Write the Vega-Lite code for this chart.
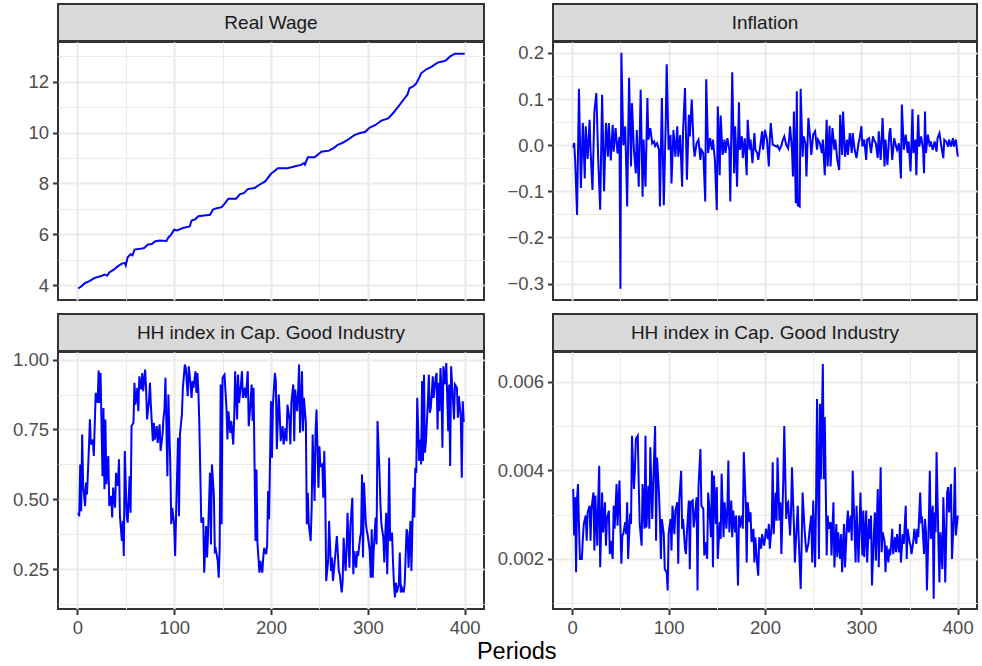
{
"$schema": "https://vega.github.io/schema/vega-lite/v6.json",
"padding": {"left": 11, "top": 3, "right": 3, "bottom": 0},
"title": {"text": "Periods", "orient": "bottom", "anchor": "middle", "fontSize": 23.5, "fontWeight": "normal", "color": "#000000", "font": "Liberation Sans", "dx": 22, "offset": 2},
"columns": 2,
"align": "each",
"spacing": {"row": -4, "column": 11},
"config": {
  "font": "Liberation Sans",
  "view": {"stroke": "#333333", "strokeWidth": 2},
  "axis": {"labelFont": "Liberation Sans", "labelFontSize": 18.5, "labelColor": "#4d4d4d", "tickColor": "#333333", "tickSize": 5.5, "tickWidth": 2, "labelPadding": 4, "gridColor": "#ebebeb", "domain": false, "title": null}
},
"datasets": {
"rw": [{"t":1,"v":3.88},{"t":4,"v":3.95},{"t":8,"v":4.09},{"t":12,"v":4.15},{"t":18,"v":4.29},{"t":24,"v":4.35},{"t":28,"v":4.42},{"t":31,"v":4.38},{"t":33,"v":4.5},{"t":38,"v":4.62},{"t":42,"v":4.75},{"t":46,"v":4.85},{"t":49,"v":4.88},{"t":50,"v":4.78},{"t":52,"v":5.1},{"t":55,"v":5.22},{"t":57,"v":5.18},{"t":59,"v":5.4},{"t":65,"v":5.43},{"t":69,"v":5.46},{"t":73,"v":5.6},{"t":77,"v":5.62},{"t":80,"v":5.72},{"t":85,"v":5.76},{"t":92,"v":5.74},{"t":94,"v":5.88},{"t":97,"v":5.99},{"t":100,"v":6.18},{"t":103,"v":6.15},{"t":109,"v":6.25},{"t":116,"v":6.31},{"t":118,"v":6.54},{"t":122,"v":6.6},{"t":125,"v":6.71},{"t":131,"v":6.74},{"t":137,"v":6.77},{"t":140,"v":6.97},{"t":144,"v":7.03},{"t":149,"v":7.07},{"t":152,"v":7.2},{"t":156,"v":7.4},{"t":164,"v":7.4},{"t":168,"v":7.58},{"t":172,"v":7.62},{"t":176,"v":7.78},{"t":183,"v":7.82},{"t":188,"v":7.95},{"t":194,"v":8.08},{"t":200,"v":8.38},{"t":204,"v":8.5},{"t":207,"v":8.6},{"t":217,"v":8.6},{"t":225,"v":8.68},{"t":231,"v":8.73},{"t":234,"v":8.8},{"t":235,"v":8.74},{"t":238,"v":9.03},{"t":245,"v":9.03},{"t":252,"v":9.25},{"t":260,"v":9.29},{"t":265,"v":9.4},{"t":269,"v":9.52},{"t":274,"v":9.6},{"t":279,"v":9.71},{"t":286,"v":9.9},{"t":292,"v":9.98},{"t":297,"v":10.02},{"t":302,"v":10.2},{"t":308,"v":10.3},{"t":314,"v":10.47},{"t":321,"v":10.56},{"t":326,"v":10.76},{"t":332,"v":11.05},{"t":338,"v":11.35},{"t":341,"v":11.5},{"t":343,"v":11.74},{"t":347,"v":11.82},{"t":350,"v":11.93},{"t":353,"v":12.15},{"t":355,"v":12.33},{"t":360,"v":12.48},{"t":366,"v":12.59},{"t":372,"v":12.75},{"t":378,"v":12.8},{"t":381,"v":12.85},{"t":385,"v":13.0},{"t":390,"v":13.1},{"t":400,"v":13.1}],
"inf": [{"t":1,"v":-0.005},{"t":2,"v":0.005},{"t":3,"v":-0.03},{"t":5,"v":-0.151},{"t":7,"v":0.122},{"t":9,"v":-0.093},{"t":11,"v":0.048},{"t":13,"v":-0.072},{"t":14,"v":0.041},{"t":16,"v":-0.03},{"t":18,"v":0.055},{"t":19,"v":-0.01},{"t":21,"v":-0.097},{"t":23,"v":0.073},{"t":25,"v":0.113},{"t":27,"v":-0.033},{"t":29,"v":-0.14},{"t":31,"v":0.109},{"t":33,"v":-0.1},{"t":35,"v":0.048},{"t":37,"v":-0.025},{"t":38,"v":0.048},{"t":40,"v":-0.033},{"t":42,"v":0.044},{"t":43,"v":-0.014},{"t":45,"v":0.037},{"t":47,"v":-0.018},{"t":49,"v":0.018},{"t":50,"v":-0.311},{"t":51,"v":0.2},{"t":53,"v":0.0},{"t":54,"v":0.012},{"t":55,"v":0.041},{"t":57,"v":-0.133},{"t":59,"v":0.146},{"t":61,"v":-0.046},{"t":62,"v":0.091},{"t":64,"v":-0.01},{"t":66,"v":-0.061},{"t":67,"v":0.033},{"t":69,"v":-0.09},{"t":71,"v":0.12},{"t":73,"v":-0.112},{"t":74,"v":0.012},{"t":76,"v":-0.09},{"t":78,"v":0.102},{"t":79,"v":0.012},{"t":81,"v":0.037},{"t":83,"v":0.004},{"t":85,"v":0.008},{"t":86,"v":-0.002},{"t":88,"v":0.004},{"t":90,"v":-0.01},{"t":91,"v":-0.133},{"t":93,"v":0.102},{"t":95,"v":-0.13},{"t":97,"v":0.048},{"t":98,"v":0.175},{"t":100,"v":-0.01},{"t":102,"v":0.022},{"t":103,"v":-0.083},{"t":105,"v":0.033},{"t":107,"v":-0.025},{"t":109,"v":0.041},{"t":110,"v":-0.025},{"t":112,"v":0.022},{"t":114,"v":-0.09},{"t":115,"v":0.03},{"t":117,"v":0.124},{"t":119,"v":-0.075},{"t":121,"v":0.066},{"t":122,"v":0.019},{"t":124,"v":0.099},{"t":126,"v":-0.003},{"t":127,"v":-0.025},{"t":129,"v":0.004},{"t":131,"v":0.012},{"t":133,"v":-0.032},{"t":134,"v":-0.01},{"t":136,"v":-0.017},{"t":138,"v":-0.122},{"t":139,"v":0.143},{"t":141,"v":-0.017},{"t":143,"v":0.015},{"t":145,"v":-0.01},{"t":146,"v":0.012},{"t":148,"v":-0.032},{"t":150,"v":-0.141},{"t":151,"v":0.084},{"t":153,"v":-0.065},{"t":154,"v":0.064},{"t":156,"v":-0.021},{"t":158,"v":0.012},{"t":159,"v":-0.017},{"t":161,"v":0.015},{"t":163,"v":-0.01},{"t":164,"v":-0.122},{"t":166,"v":0.158},{"t":168,"v":-0.061},{"t":169,"v":0.041},{"t":170,"v":-0.01},{"t":171,"v":-0.09},{"t":173,"v":0.093},{"t":174,"v":-0.01},{"t":176,"v":0.019},{"t":177,"v":-0.028},{"t":179,"v":0.015},{"t":181,"v":-0.065},{"t":182,"v":0.055},{"t":184,"v":-0.01},{"t":185,"v":0.012},{"t":187,"v":-0.039},{"t":189,"v":0.026},{"t":190,"v":-0.01},{"t":192,"v":-0.017},{"t":193,"v":-0.032},{"t":195,"v":-0.003},{"t":197,"v":0.03},{"t":198,"v":-0.01},{"t":200,"v":0.033},{"t":202,"v":0.012},{"t":204,"v":-0.046},{"t":205,"v":0.015},{"t":206,"v":0.048},{"t":208,"v":0.001},{"t":210,"v":-0.001},{"t":212,"v":-0.003},{"t":213,"v":-0.001},{"t":215,"v":-0.01},{"t":217,"v":-0.001},{"t":218,"v":0.008},{"t":220,"v":0.019},{"t":222,"v":0.001},{"t":224,"v":-0.007},{"t":225,"v":0.012},{"t":226,"v":0.041},{"t":228,"v":-0.01},{"t":229,"v":-0.068},{"t":230,"v":0.073},{"t":232,"v":-0.126},{"t":233,"v":0.117},{"t":234,"v":-0.13},{"t":236,"v":-0.133},{"t":237,"v":0.122},{"t":239,"v":-0.025},{"t":240,"v":0.019},{"t":242,"v":0.004},{"t":243,"v":-0.068},{"t":245,"v":0.059},{"t":247,"v":0.012},{"t":248,"v":-0.021},{"t":250,"v":0.023},{"t":252,"v":0.03},{"t":254,"v":-0.01},{"t":255,"v":0.012},{"t":257,"v":0.004},{"t":259,"v":-0.017},{"t":260,"v":0.012},{"t":262,"v":-0.065},{"t":264,"v":0.055},{"t":265,"v":-0.046},{"t":267,"v":0.042},{"t":268,"v":-0.046},{"t":270,"v":0.037},{"t":272,"v":-0.01},{"t":273,"v":0.012},{"t":275,"v":-0.032},{"t":277,"v":-0.054},{"t":278,"v":0.066},{"t":280,"v":-0.021},{"t":281,"v":0.073},{"t":283,"v":-0.025},{"t":285,"v":0.012},{"t":286,"v":-0.021},{"t":288,"v":0.026},{"t":290,"v":-0.017},{"t":291,"v":0.026},{"t":293,"v":-0.01},{"t":295,"v":-0.028},{"t":297,"v":0.004},{"t":298,"v":0.012},{"t":300,"v":0.041},{"t":301,"v":-0.003},{"t":303,"v":0.012},{"t":305,"v":-0.032},{"t":306,"v":0.012},{"t":308,"v":0.015},{"t":310,"v":-0.017},{"t":312,"v":0.019},{"t":313,"v":0.012},{"t":315,"v":0.004},{"t":317,"v":-0.028},{"t":318,"v":0.03},{"t":320,"v":-0.032},{"t":322,"v":0.059},{"t":324,"v":-0.046},{"t":325,"v":0.012},{"t":327,"v":-0.043},{"t":329,"v":0.026},{"t":330,"v":0.037},{"t":332,"v":-0.032},{"t":334,"v":0.015},{"t":336,"v":-0.003},{"t":337,"v":-0.01},{"t":339,"v":0.004},{"t":341,"v":-0.072},{"t":342,"v":0.088},{"t":344,"v":-0.01},{"t":346,"v":0.023},{"t":348,"v":-0.017},{"t":349,"v":0.008},{"t":351,"v":-0.057},{"t":353,"v":0.078},{"t":354,"v":-0.017},{"t":356,"v":0.012},{"t":357,"v":-0.065},{"t":359,"v":0.066},{"t":360,"v":-0.003},{"t":362,"v":0.019},{"t":364,"v":-0.01},{"t":365,"v":-0.061},{"t":366,"v":0.073},{"t":367,"v":-0.017},{"t":369,"v":0.023},{"t":371,"v":-0.003},{"t":372,"v":0.008},{"t":374,"v":-0.01},{"t":376,"v":0.008},{"t":378,"v":-0.014},{"t":379,"v":0.015},{"t":381,"v":0.026},{"t":383,"v":-0.003},{"t":385,"v":-0.028},{"t":386,"v":0.012},{"t":388,"v":0.008},{"t":390,"v":-0.003},{"t":391,"v":0.012},{"t":393,"v":-0.003},{"t":395,"v":0.015},{"t":396,"v":-0.003},{"t":398,"v":0.012},{"t":400,"v":-0.025}],
"hh1": [{"t":1,"v":0.452},{"t":2,"v":0.44},{"t":3,"v":0.625},{"t":4,"v":0.458},{"t":5,"v":0.732},{"t":6,"v":0.554},{"t":8,"v":0.476},{"t":9,"v":0.56},{"t":10,"v":0.518},{"t":12,"v":0.685},{"t":13,"v":0.786},{"t":14,"v":0.696},{"t":16,"v":0.714},{"t":17,"v":0.655},{"t":19,"v":0.881},{"t":21,"v":0.845},{"t":22,"v":0.961},{"t":23,"v":0.845},{"t":24,"v":0.952},{"t":26,"v":0.583},{"t":27,"v":0.827},{"t":28,"v":0.536},{"t":29,"v":0.786},{"t":30,"v":0.554},{"t":32,"v":0.655},{"t":33,"v":0.476},{"t":35,"v":0.512},{"t":36,"v":0.435},{"t":37,"v":0.542},{"t":39,"v":0.47},{"t":40,"v":0.595},{"t":42,"v":0.548},{"t":43,"v":0.643},{"t":44,"v":0.44},{"t":46,"v":0.351},{"t":47,"v":0.423},{"t":48,"v":0.298},{"t":49,"v":0.673},{"t":51,"v":0.44},{"t":52,"v":0.417},{"t":54,"v":0.583},{"t":55,"v":0.452},{"t":56,"v":0.762},{"t":58,"v":0.774},{"t":59,"v":0.917},{"t":60,"v":0.839},{"t":62,"v":0.899},{"t":63,"v":0.815},{"t":64,"v":0.94},{"t":66,"v":0.893},{"t":67,"v":0.952},{"t":68,"v":0.887},{"t":70,"v":0.964},{"t":71,"v":0.899},{"t":72,"v":0.786},{"t":74,"v":0.851},{"t":75,"v":0.917},{"t":76,"v":0.833},{"t":78,"v":0.708},{"t":79,"v":0.774},{"t":80,"v":0.714},{"t":82,"v":0.762},{"t":83,"v":0.702},{"t":85,"v":0.768},{"t":86,"v":0.673},{"t":88,"v":0.732},{"t":89,"v":0.792},{"t":90,"v":0.821},{"t":91,"v":0.935},{"t":93,"v":0.583},{"t":94,"v":0.875},{"t":96,"v":0.625},{"t":97,"v":0.411},{"t":98,"v":0.47},{"t":100,"v":0.411},{"t":101,"v":0.298},{"t":102,"v":0.446},{"t":104,"v":0.72},{"t":105,"v":0.44},{"t":106,"v":0.732},{"t":108,"v":0.804},{"t":109,"v":0.899},{"t":111,"v":0.982},{"t":112,"v":0.97},{"t":114,"v":0.869},{"t":115,"v":0.976},{"t":116,"v":0.946},{"t":118,"v":0.863},{"t":119,"v":0.923},{"t":120,"v":0.899},{"t":122,"v":0.958},{"t":123,"v":0.881},{"t":124,"v":0.952},{"t":125,"v":0.887},{"t":126,"v":0.768},{"t":128,"v":0.417},{"t":130,"v":0.435},{"t":131,"v":0.238},{"t":133,"v":0.405},{"t":134,"v":0.292},{"t":135,"v":0.375},{"t":137,"v":0.595},{"t":138,"v":0.339},{"t":139,"v":0.625},{"t":141,"v":0.518},{"t":142,"v":0.315},{"t":143,"v":0.321},{"t":145,"v":0.28},{"t":146,"v":0.22},{"t":147,"v":0.327},{"t":148,"v":0.911},{"t":149,"v":0.411},{"t":150,"v":0.935},{"t":152,"v":0.946},{"t":153,"v":0.887},{"t":154,"v":0.827},{"t":155,"v":0.714},{"t":156,"v":0.815},{"t":158,"v":0.738},{"t":159,"v":0.78},{"t":161,"v":0.696},{"t":162,"v":0.792},{"t":163,"v":0.958},{"t":165,"v":0.786},{"t":166,"v":0.946},{"t":167,"v":0.845},{"t":169,"v":0.911},{"t":170,"v":0.958},{"t":171,"v":0.863},{"t":173,"v":0.899},{"t":174,"v":0.863},{"t":176,"v":0.958},{"t":177,"v":0.762},{"t":178,"v":0.804},{"t":180,"v":0.911},{"t":181,"v":0.78},{"t":182,"v":0.899},{"t":184,"v":0.351},{"t":185,"v":0.607},{"t":186,"v":0.345},{"t":188,"v":0.238},{"t":189,"v":0.28},{"t":191,"v":0.238},{"t":192,"v":0.292},{"t":193,"v":0.327},{"t":195,"v":0.304},{"t":196,"v":0.333},{"t":197,"v":0.53},{"t":198,"v":0.429},{"t":199,"v":0.643},{"t":200,"v":0.851},{"t":201,"v":0.649},{"t":202,"v":0.839},{"t":204,"v":0.952},{"t":205,"v":0.923},{"t":206,"v":0.679},{"t":208,"v":0.875},{"t":209,"v":0.804},{"t":210,"v":0.708},{"t":212,"v":0.762},{"t":213,"v":0.696},{"t":215,"v":0.756},{"t":216,"v":0.708},{"t":217,"v":0.839},{"t":219,"v":0.786},{"t":220,"v":0.696},{"t":221,"v":0.845},{"t":223,"v":0.911},{"t":224,"v":0.708},{"t":225,"v":0.893},{"t":227,"v":0.815},{"t":228,"v":0.881},{"t":229,"v":0.982},{"t":230,"v":0.738},{"t":232,"v":0.958},{"t":233,"v":0.744},{"t":234,"v":0.863},{"t":236,"v":0.774},{"t":237,"v":0.411},{"t":238,"v":0.524},{"t":239,"v":0.411},{"t":241,"v":0.351},{"t":242,"v":0.47},{"t":243,"v":0.732},{"t":245,"v":0.494},{"t":246,"v":0.738},{"t":247,"v":0.821},{"t":249,"v":0.542},{"t":250,"v":0.69},{"t":251,"v":0.619},{"t":253,"v":0.625},{"t":254,"v":0.506},{"t":255,"v":0.673},{"t":256,"v":0.53},{"t":257,"v":0.208},{"t":259,"v":0.28},{"t":260,"v":0.423},{"t":262,"v":0.244},{"t":263,"v":0.292},{"t":264,"v":0.208},{"t":266,"v":0.286},{"t":268,"v":0.369},{"t":270,"v":0.244},{"t":271,"v":0.232},{"t":273,"v":0.167},{"t":274,"v":0.208},{"t":275,"v":0.363},{"t":277,"v":0.244},{"t":278,"v":0.315},{"t":279,"v":0.452},{"t":281,"v":0.256},{"t":282,"v":0.405},{"t":284,"v":0.506},{"t":285,"v":0.232},{"t":286,"v":0.315},{"t":288,"v":0.256},{"t":289,"v":0.315},{"t":290,"v":0.298},{"t":292,"v":0.363},{"t":293,"v":0.381},{"t":294,"v":0.589},{"t":295,"v":0.292},{"t":296,"v":0.56},{"t":298,"v":0.411},{"t":299,"v":0.387},{"t":300,"v":0.369},{"t":302,"v":0.315},{"t":303,"v":0.22},{"t":304,"v":0.393},{"t":305,"v":0.22},{"t":306,"v":0.315},{"t":308,"v":0.435},{"t":309,"v":0.339},{"t":310,"v":0.78},{"t":312,"v":0.601},{"t":313,"v":0.482},{"t":314,"v":0.411},{"t":316,"v":0.363},{"t":317,"v":0.274},{"t":318,"v":0.375},{"t":319,"v":0.452},{"t":320,"v":0.232},{"t":321,"v":0.381},{"t":322,"v":0.649},{"t":323,"v":0.351},{"t":325,"v":0.381},{"t":326,"v":0.274},{"t":327,"v":0.196},{"t":328,"v":0.149},{"t":329,"v":0.202},{"t":330,"v":0.167},{"t":332,"v":0.196},{"t":333,"v":0.31},{"t":334,"v":0.167},{"t":335,"v":0.185},{"t":337,"v":0.167},{"t":338,"v":0.196},{"t":340,"v":0.393},{"t":341,"v":0.381},{"t":342,"v":0.256},{"t":344,"v":0.423},{"t":345,"v":0.244},{"t":346,"v":0.399},{"t":347,"v":0.542},{"t":348,"v":0.435},{"t":349,"v":0.613},{"t":350,"v":0.595},{"t":351,"v":0.863},{"t":353,"v":0.637},{"t":354,"v":0.714},{"t":355,"v":0.625},{"t":356,"v":0.923},{"t":357,"v":0.637},{"t":358,"v":0.946},{"t":359,"v":0.667},{"t":360,"v":0.708},{"t":362,"v":0.851},{"t":363,"v":0.946},{"t":364,"v":0.81},{"t":365,"v":0.827},{"t":366,"v":0.875},{"t":367,"v":0.94},{"t":368,"v":0.863},{"t":370,"v":0.935},{"t":371,"v":0.952},{"t":372,"v":0.75},{"t":373,"v":0.917},{"t":374,"v":0.815},{"t":375,"v":0.97},{"t":376,"v":0.893},{"t":377,"v":0.685},{"t":378,"v":0.976},{"t":380,"v":0.911},{"t":381,"v":0.988},{"t":383,"v":0.744},{"t":384,"v":0.911},{"t":385,"v":0.619},{"t":386,"v":0.976},{"t":388,"v":0.851},{"t":389,"v":0.786},{"t":390,"v":0.911},{"t":392,"v":0.899},{"t":393,"v":0.792},{"t":394,"v":0.869},{"t":396,"v":0.792},{"t":397,"v":0.577},{"t":398,"v":0.851},{"t":399,"v":0.78},{"t":400,"v":0.78}],
"hh2": [{"t":1,"v":0.00358},{"t":2,"v":0.00253},{"t":3,"v":0.00339},{"t":4,"v":0.0017},{"t":5,"v":0.00335},{"t":6,"v":0.00369},{"t":7,"v":0.00275},{"t":8,"v":0.002},{"t":10,"v":0.002},{"t":11,"v":0.00245},{"t":12,"v":0.00279},{"t":14,"v":0.00298},{"t":15,"v":0.00241},{"t":16,"v":0.00305},{"t":18,"v":0.0032},{"t":19,"v":0.00241},{"t":20,"v":0.00313},{"t":22,"v":0.0035},{"t":23,"v":0.00219},{"t":24,"v":0.00343},{"t":26,"v":0.0023},{"t":27,"v":0.00335},{"t":28,"v":0.0041},{"t":29,"v":0.00181},{"t":31,"v":0.0035},{"t":32,"v":0.0026},{"t":34,"v":0.00328},{"t":35,"v":0.0023},{"t":36,"v":0.0029},{"t":38,"v":0.00309},{"t":39,"v":0.00211},{"t":40,"v":0.00241},{"t":42,"v":0.002},{"t":43,"v":0.0032},{"t":44,"v":0.00268},{"t":46,"v":0.00369},{"t":47,"v":0.00275},{"t":49,"v":0.00377},{"t":50,"v":0.00268},{"t":51,"v":0.00189},{"t":52,"v":0.00253},{"t":53,"v":0.00256},{"t":55,"v":0.00283},{"t":56,"v":0.00256},{"t":57,"v":0.00328},{"t":58,"v":0.002},{"t":60,"v":0.00302},{"t":61,"v":0.00279},{"t":62,"v":0.00478},{"t":64,"v":0.00358},{"t":65,"v":0.00399},{"t":66,"v":0.00471},{"t":68,"v":0.00478},{"t":69,"v":0.00369},{"t":70,"v":0.00279},{"t":72,"v":0.0023},{"t":73,"v":0.00369},{"t":75,"v":0.00268},{"t":76,"v":0.00478},{"t":77,"v":0.00271},{"t":79,"v":0.00365},{"t":80,"v":0.00268},{"t":81,"v":0.00452},{"t":83,"v":0.0029},{"t":84,"v":0.00365},{"t":86,"v":0.005},{"t":87,"v":0.00241},{"t":88,"v":0.00429},{"t":90,"v":0.0035},{"t":91,"v":0.00286},{"t":92,"v":0.002},{"t":93,"v":0.0029},{"t":95,"v":0.00256},{"t":96,"v":0.00177},{"t":98,"v":0.0017},{"t":99,"v":0.00129},{"t":100,"v":0.00256},{"t":102,"v":0.0029},{"t":103,"v":0.00219},{"t":104,"v":0.0032},{"t":106,"v":0.00256},{"t":107,"v":0.00309},{"t":109,"v":0.00328},{"t":110,"v":0.00189},{"t":111,"v":0.00332},{"t":113,"v":0.00399},{"t":114,"v":0.00268},{"t":115,"v":0.0029},{"t":117,"v":0.00223},{"t":118,"v":0.00211},{"t":119,"v":0.0026},{"t":121,"v":0.00332},{"t":122,"v":0.00177},{"t":123,"v":0.00328},{"t":125,"v":0.00332},{"t":126,"v":0.00271},{"t":127,"v":0.0029},{"t":129,"v":0.00339},{"t":130,"v":0.00129},{"t":131,"v":0.00362},{"t":133,"v":0.00448},{"t":134,"v":0.0032},{"t":136,"v":0.00313},{"t":137,"v":0.00208},{"t":138,"v":0.00238},{"t":140,"v":0.002},{"t":141,"v":0.0035},{"t":142,"v":0.00324},{"t":144,"v":0.00249},{"t":145,"v":0.00399},{"t":146,"v":0.00181},{"t":147,"v":0.00388},{"t":149,"v":0.00279},{"t":150,"v":0.00362},{"t":151,"v":0.002},{"t":153,"v":0.00283},{"t":154,"v":0.00245},{"t":155,"v":0.00392},{"t":157,"v":0.00249},{"t":158,"v":0.00328},{"t":160,"v":0.00268},{"t":161,"v":0.00317},{"t":162,"v":0.00422},{"t":163,"v":0.0026},{"t":165,"v":0.00332},{"t":166,"v":0.00249},{"t":167,"v":0.00309},{"t":169,"v":0.0026},{"t":170,"v":0.00298},{"t":172,"v":0.0014},{"t":173,"v":0.00298},{"t":174,"v":0.00271},{"t":176,"v":0.00298},{"t":177,"v":0.00268},{"t":178,"v":0.00441},{"t":180,"v":0.00324},{"t":181,"v":0.00192},{"t":182,"v":0.00328},{"t":184,"v":0.00283},{"t":185,"v":0.00305},{"t":186,"v":0.00238},{"t":188,"v":0.00268},{"t":189,"v":0.00192},{"t":190,"v":0.00249},{"t":192,"v":0.00185},{"t":193,"v":0.00162},{"t":194,"v":0.00249},{"t":196,"v":0.00223},{"t":197,"v":0.00256},{"t":199,"v":0.0023},{"t":200,"v":0.00245},{"t":201,"v":0.00268},{"t":203,"v":0.00245},{"t":204,"v":0.00279},{"t":205,"v":0.00223},{"t":207,"v":0.00279},{"t":208,"v":0.00418},{"t":209,"v":0.00256},{"t":211,"v":0.0035},{"t":212,"v":0.00286},{"t":213,"v":0.00429},{"t":215,"v":0.00286},{"t":216,"v":0.00328},{"t":217,"v":0.00211},{"t":219,"v":0.0038},{"t":220,"v":0.005},{"t":222,"v":0.0029},{"t":223,"v":0.00324},{"t":224,"v":0.00328},{"t":226,"v":0.00253},{"t":227,"v":0.00305},{"t":228,"v":0.00407},{"t":230,"v":0.00275},{"t":231,"v":0.00192},{"t":232,"v":0.00238},{"t":234,"v":0.0032},{"t":235,"v":0.00245},{"t":237,"v":0.00132},{"t":238,"v":0.0023},{"t":239,"v":0.0035},{"t":241,"v":0.00268},{"t":242,"v":0.00238},{"t":243,"v":0.00215},{"t":245,"v":0.00234},{"t":246,"v":0.0026},{"t":248,"v":0.00298},{"t":249,"v":0.00192},{"t":250,"v":0.00332},{"t":252,"v":0.00181},{"t":253,"v":0.00332},{"t":254,"v":0.00561},{"t":256,"v":0.002},{"t":257,"v":0.0055},{"t":258,"v":0.0038},{"t":260,"v":0.0064},{"t":261,"v":0.0038},{"t":262,"v":0.0052},{"t":264,"v":0.00208},{"t":265,"v":0.00298},{"t":266,"v":0.00268},{"t":268,"v":0.00283},{"t":269,"v":0.00208},{"t":271,"v":0.00328},{"t":272,"v":0.00181},{"t":274,"v":0.00279},{"t":275,"v":0.00204},{"t":276,"v":0.0026},{"t":278,"v":0.002},{"t":279,"v":0.00256},{"t":280,"v":0.0017},{"t":282,"v":0.00279},{"t":283,"v":0.00181},{"t":285,"v":0.00279},{"t":286,"v":0.00309},{"t":287,"v":0.0026},{"t":289,"v":0.00298},{"t":290,"v":0.00241},{"t":291,"v":0.00399},{"t":292,"v":0.00328},{"t":294,"v":0.00192},{"t":295,"v":0.0032},{"t":297,"v":0.00192},{"t":298,"v":0.00264},{"t":299,"v":0.0035},{"t":301,"v":0.00208},{"t":302,"v":0.00309},{"t":303,"v":0.00204},{"t":305,"v":0.00309},{"t":306,"v":0.00192},{"t":308,"v":0.0029},{"t":309,"v":0.00245},{"t":310,"v":0.00298},{"t":311,"v":0.0014},{"t":313,"v":0.0026},{"t":314,"v":0.00305},{"t":315,"v":0.00196},{"t":317,"v":0.00358},{"t":318,"v":0.00181},{"t":320,"v":0.00407},{"t":321,"v":0.00215},{"t":322,"v":0.0026},{"t":324,"v":0.00241},{"t":325,"v":0.0017},{"t":326,"v":0.0023},{"t":328,"v":0.00192},{"t":329,"v":0.00223},{"t":330,"v":0.00208},{"t":332,"v":0.00268},{"t":333,"v":0.00211},{"t":335,"v":0.00249},{"t":336,"v":0.00215},{"t":337,"v":0.00256},{"t":339,"v":0.00215},{"t":340,"v":0.00279},{"t":341,"v":0.00192},{"t":343,"v":0.00256},{"t":344,"v":0.00234},{"t":346,"v":0.0032},{"t":347,"v":0.002},{"t":348,"v":0.00268},{"t":350,"v":0.00238},{"t":351,"v":0.0023},{"t":352,"v":0.00211},{"t":354,"v":0.00241},{"t":355,"v":0.00268},{"t":357,"v":0.00234},{"t":358,"v":0.00268},{"t":359,"v":0.00249},{"t":361,"v":0.0035},{"t":362,"v":0.00286},{"t":363,"v":0.0029},{"t":365,"v":0.00211},{"t":366,"v":0.0029},{"t":367,"v":0.0026},{"t":368,"v":0.00129},{"t":370,"v":0.0029},{"t":371,"v":0.00399},{"t":372,"v":0.00245},{"t":374,"v":0.0032},{"t":375,"v":0.0011},{"t":376,"v":0.00305},{"t":377,"v":0.0026},{"t":378,"v":0.00441},{"t":380,"v":0.0023},{"t":381,"v":0.00147},{"t":382,"v":0.0026},{"t":384,"v":0.00177},{"t":385,"v":0.00339},{"t":386,"v":0.00268},{"t":387,"v":0.00147},{"t":389,"v":0.0035},{"t":390,"v":0.00362},{"t":391,"v":0.00305},{"t":393,"v":0.00369},{"t":394,"v":0.002},{"t":396,"v":0.00298},{"t":397,"v":0.00407},{"t":398,"v":0.00253},{"t":400,"v":0.00298}]
},
"concat": [
  {"width": 426, "height": 37, "data": {"values": [{"label": "Real Wage"}]}, "view": {"fill": "#d9d9d9", "stroke": "#333333", "strokeWidth": 2}, "mark": {"type": "text", "fontSize": 19, "color": "#1a1a1a", "font": "Liberation Sans"}, "encoding": {"text": {"field": "label"}}},
  {"width": 424, "height": 37, "data": {"values": [{"label": "Inflation"}]}, "view": {"fill": "#d9d9d9", "stroke": "#333333", "strokeWidth": 2}, "mark": {"type": "text", "fontSize": 19, "color": "#1a1a1a", "font": "Liberation Sans"}, "encoding": {"text": {"field": "label"}}},
  {"width": 426, "height": 258, "data": {"name": "rw"},
   "layer": [
    {"mark": {"type": "line", "strokeOpacity": 0},
     "encoding": {
      "x": {"field": "t", "type": "quantitative", "scale": {"domain": [-19.95, 419.95], "nice": false, "zero": false}, "axis": {"orient": "top", "values": [50,150,250,350], "grid": true, "gridWidth": 1.1, "labels": false, "ticks": false, "domain": false, "minExtent": 0, "maxExtent": 0, "title": null}},
      "y": {"field": "v", "type": "quantitative", "scale": {"domain": [3.42, 13.56], "nice": false, "zero": false}, "axis": {"orient": "right", "values": [5,7,9,11,13], "grid": true, "gridWidth": 1.1, "labels": false, "ticks": false, "domain": false, "minExtent": 0, "maxExtent": 0, "title": null}}}},
    {"mark": {"type": "line", "color": "#0000ff", "strokeWidth": 2},
     "encoding": {
      "x": {"field": "t", "type": "quantitative", "scale": {"domain": [-19.95, 419.95], "nice": false, "zero": false}, "axis": {"orient": "bottom", "values": [0,100,200,300,400], "grid": true, "gridWidth": 2.2, "labels": false, "ticks": false, "domain": false, "minExtent": 13, "maxExtent": 13, "title": null}},
      "y": {"field": "v", "type": "quantitative", "scale": {"domain": [3.42, 13.56], "nice": false, "zero": false}, "axis": {"orient": "left", "values": [4,6,8,10,12], "grid": true, "gridWidth": 2.2, "format": "d", "title": null}}}}
   ],
   "resolve": {"axis": {"x": "independent", "y": "independent"}}},
  {"width": 424, "height": 258, "data": {"name": "inf"},
   "layer": [
    {"mark": {"type": "line", "strokeOpacity": 0},
     "encoding": {
      "x": {"field": "t", "type": "quantitative", "scale": {"domain": [-19.95, 419.95], "nice": false, "zero": false}, "axis": {"orient": "top", "values": [50,150,250,350], "grid": true, "gridWidth": 1.1, "labels": false, "ticks": false, "domain": false, "minExtent": 0, "maxExtent": 0, "title": null}},
      "y": {"field": "v", "type": "quantitative", "scale": {"domain": [-0.3355, 0.2235], "nice": false, "zero": false}, "axis": {"orient": "right", "values": [-0.25,-0.15,-0.05,0.05,0.15], "grid": true, "gridWidth": 1.1, "labels": false, "ticks": false, "domain": false, "minExtent": 0, "maxExtent": 0, "title": null}}}},
    {"mark": {"type": "line", "color": "#0000ff", "strokeWidth": 2},
     "encoding": {
      "x": {"field": "t", "type": "quantitative", "scale": {"domain": [-19.95, 419.95], "nice": false, "zero": false}, "axis": {"orient": "bottom", "values": [0,100,200,300,400], "grid": true, "gridWidth": 2.2, "labels": false, "ticks": false, "domain": false, "minExtent": 13, "maxExtent": 13, "title": null}},
      "y": {"field": "v", "type": "quantitative", "scale": {"domain": [-0.3355, 0.2235], "nice": false, "zero": false}, "axis": {"orient": "left", "values": [-0.3,-0.2,-0.1,0,0.1,0.2], "grid": true, "gridWidth": 2.2, "format": ".1f", "title": null}}}}
   ],
   "resolve": {"axis": {"x": "independent", "y": "independent"}}},
  {"width": 426, "height": 37, "data": {"values": [{"label": "HH index in Cap. Good Industry"}]}, "view": {"fill": "#d9d9d9", "stroke": "#333333", "strokeWidth": 2}, "mark": {"type": "text", "fontSize": 19, "color": "#1a1a1a", "font": "Liberation Sans"}, "encoding": {"text": {"field": "label"}}},
  {"width": 424, "height": 37, "data": {"values": [{"label": "HH index in Cap. Good Industry"}]}, "view": {"fill": "#d9d9d9", "stroke": "#333333", "strokeWidth": 2}, "mark": {"type": "text", "fontSize": 19, "color": "#1a1a1a", "font": "Liberation Sans"}, "encoding": {"text": {"field": "label"}}},
  {"width": 426, "height": 257, "data": {"name": "hh1"},
   "layer": [
    {"mark": {"type": "line", "strokeOpacity": 0},
     "encoding": {
      "x": {"field": "t", "type": "quantitative", "scale": {"domain": [-19.95, 419.95], "nice": false, "zero": false}, "axis": {"orient": "top", "values": [50,150,250,350], "grid": true, "gridWidth": 1.1, "labels": false, "ticks": false, "domain": false, "minExtent": 0, "maxExtent": 0, "title": null}},
      "y": {"field": "v", "type": "quantitative", "scale": {"domain": [0.108, 1.027], "nice": false, "zero": false}, "axis": {"orient": "right", "values": [0.125,0.375,0.625,0.875], "grid": true, "gridWidth": 1.1, "labels": false, "ticks": false, "domain": false, "minExtent": 0, "maxExtent": 0, "title": null}}}},
    {"mark": {"type": "line", "color": "#0000ff", "strokeWidth": 2},
     "encoding": {
      "x": {"field": "t", "type": "quantitative", "scale": {"domain": [-19.95, 419.95], "nice": false, "zero": false}, "axis": {"orient": "bottom", "values": [0,100,200,300,400], "grid": true, "gridWidth": 2.2, "format": "d", "title": null}},
      "y": {"field": "v", "type": "quantitative", "scale": {"domain": [0.108, 1.027], "nice": false, "zero": false}, "axis": {"orient": "left", "values": [0.25,0.5,0.75,1.0], "grid": true, "gridWidth": 2.2, "format": ".2f", "title": null}}}}
   ],
   "resolve": {"axis": {"x": "independent", "y": "independent"}}},
  {"width": 424, "height": 257, "data": {"name": "hh2"},
   "layer": [
    {"mark": {"type": "line", "strokeOpacity": 0},
     "encoding": {
      "x": {"field": "t", "type": "quantitative", "scale": {"domain": [-19.95, 419.95], "nice": false, "zero": false}, "axis": {"orient": "top", "values": [50,150,250,350], "grid": true, "gridWidth": 1.1, "labels": false, "ticks": false, "domain": false, "minExtent": 0, "maxExtent": 0, "title": null}},
      "y": {"field": "v", "type": "quantitative", "scale": {"domain": [0.00087, 0.00667], "nice": false, "zero": false}, "axis": {"orient": "right", "values": [0.001,0.003,0.005], "grid": true, "gridWidth": 1.1, "labels": false, "ticks": false, "domain": false, "minExtent": 0, "maxExtent": 0, "title": null}}}},
    {"mark": {"type": "line", "color": "#0000ff", "strokeWidth": 2},
     "encoding": {
      "x": {"field": "t", "type": "quantitative", "scale": {"domain": [-19.95, 419.95], "nice": false, "zero": false}, "axis": {"orient": "bottom", "values": [0,100,200,300,400], "grid": true, "gridWidth": 2.2, "format": "d", "title": null}},
      "y": {"field": "v", "type": "quantitative", "scale": {"domain": [0.00087, 0.00667], "nice": false, "zero": false}, "axis": {"orient": "left", "values": [0.002,0.004,0.006], "grid": true, "gridWidth": 2.2, "format": ".3f", "title": null}}}}
   ],
   "resolve": {"axis": {"x": "independent", "y": "independent"}}}
]
}
